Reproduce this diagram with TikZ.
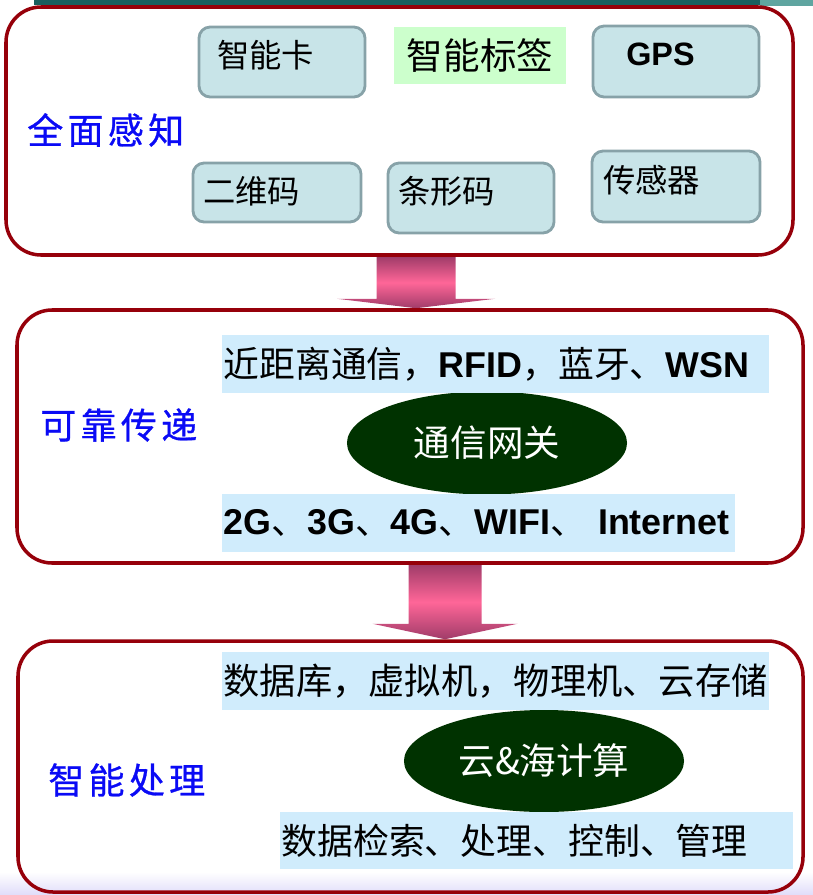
\documentclass[tikz,border=0pt]{standalone}
\usepackage{fontspec}
\usepackage{tikz}
\usetikzlibrary{fit,calc,backgrounds,shapes.geometric}
\setmainfont{Liberation Sans}
\newfontfamily\cjk{Noto Sans CJK SC}
\newfontfamily\cjkwide[LetterSpace=12,FakeBold=0.8]{Noto Sans CJK SC}
\definecolor{boxred}{RGB}{150,0,10}
\definecolor{itemfill}{RGB}{200,228,232}
\definecolor{itemline}{RGB}{135,162,168}
\definecolor{tagfill}{RGB}{204,255,204}
\definecolor{bandfill}{RGB}{208,236,252}
\definecolor{hubgreen}{RGB}{0,50,0}
\definecolor{labelblue}{RGB}{10,10,245}
\definecolor{arrowdark}{RGB}{160,60,105}
\definecolor{arrowpink}{RGB}{255,102,152}
\definecolor{topteal}{RGB}{25,95,95}
\definecolor{toplight}{RGB}{95,165,160}
\definecolor{lavender}{RGB}{224,220,250}

\begin{document}
\begin{tikzpicture}[x=0.025cm, y=-0.025cm,
		box_style/.style={draw=boxred, line width=2.5pt, rounded corners=0.875cm, inner sep=0pt},
		item_style/.style={draw=itemline, line width=2pt, fill=itemfill, rounded corners=0.28cm, inner sep=0pt, minimum width=4.15cm},
		item_text/.style={anchor=west, inner sep=0pt, font=\cjk\fontsize{23}{27}\selectfont},
		tag_style/.style={fill=tagfill, inner sep=0pt, minimum width=4.3cm, minimum height=1.425cm, font=\cjk\fontsize{26}{30}\selectfont},
		band_style/.style={fill=bandfill, anchor=north west, inner xsep=0.03cm, inner ysep=0pt, align=left, minimum height=1.44cm, font=\fontsize{25.5}{30}\selectfont},
		hub_style/.style={ellipse, fill=hubgreen, text=white, inner sep=0pt, minimum width=7cm, font=\cjk\fontsize{26}{30}\selectfont},
		label_style/.style={anchor=west, inner sep=0pt, text=labelblue, font=\cjkwide\fontsize{25.6}{30}\selectfont},
		arrow_style/.style={top color=arrowdark, bottom color=arrowdark, middle color=arrowpink}]

		\useasboundingbox (0,0) rectangle (813,895);
		\fill[topteal] (34,0) rectangle (760,5);
		\fill[toplight] (760,0) rectangle (813,6);

		% three stages
		\node[box_style, fit={(6,7) (793,255)}] (sense) {};
		\node[box_style, fit={(17,310) (803,563)}] (transmit) {};
		\node[box_style, fit={(18,641) (803,892)}] (process) {};

		\node[label_style] (sense_lbl) at (27,130) {全面感知};
		\node[label_style] (transmit_lbl) at (40,425) {可靠传递};
		\node[label_style] (process_lbl) at (48,780) {智能处理};

		% sensing devices
		\node[item_style, minimum height=1.75cm] (card) at (282,62) {};
		\node[tag_style] (tag) at (480,55.5) {智能标签};
		\node[item_style, minimum height=1.775cm] (gps) at (676,61.5) {};
		\node[item_style, minimum width=4.2cm, minimum height=1.475cm] (qr) at (277,192.5) {};
		\node[item_style, minimum height=1.75cm] (bar) at (471,198) {};
		\node[item_style, minimum width=4.2cm, minimum height=1.775cm] (sensor) at (676,186.5) {};

		\node[item_text] (card_txt) at (217,55) {智能卡};
		\node[item_text, font=\bfseries\fontsize{23}{27}\selectfont] (gps_txt) at (626,54) {GPS};
		\node[item_text] (qr_txt) at (203,191) {二维码};
		\node[item_text] (bar_txt) at (398,191) {条形码};
		\node[item_text] (sensor_txt) at (603,180) {传感器};

		% transmission
		\node[hub_style, minimum height=2.575cm] (gateway) at (487,443) {通信网关};
		\node[band_style, text width=13.615cm] (near) at (222,335) {{\cjk 近距离通信，}\textbf{RFID}{\cjk ，蓝牙、}\textbf{WSN}};
		\node[band_style, text width=12.765cm] (wide) at (222,494) {\textbf{2G}{\cjk 、}\textbf{3G}{\cjk 、}\textbf{4G}{\cjk 、}\textbf{WIFI}{\cjk 、} \textbf{Internet}};

		% processing
		\node[hub_style, minimum height=2.55cm] (cloud) at (544,761) {云\&海计算};
		\node[band_style, text width=13.615cm, font=\cjk\fontsize{25.8}{31}\selectfont] (store) at (222,652) {数据库，虚拟机，物理机、云存储};
		\node[band_style, text width=12.765cm, minimum height=1.425cm, font=\cjk\fontsize{25.5}{30}\selectfont] (manage) at (280,812) {数据检索、处理、控制、管理};

		\coordinate (a1top) at ($(sense.south)+(16.5,0)$);
		\coordinate (a1tip) at ($(transmit.north)+(6,0)$);
		\coordinate (a2top) at ($(transmit.south)+(35,0)$);
		\coordinate (a2tip) at ($(process.north)+(34.5,0)$);

		\begin{scope}[on background layer]
			\shade[top color=white, bottom color=lavender] (0,872) rectangle (813,895);
			\shade[arrow_style] ($(a1top)+(-39.5,0)$) -- ($(a1top)+(39.5,0)$) -- ($(a1top)+(39.5,42)$) -- ($(a1top)+(79,42)$)
				-- (a1tip) -- ($(a1top)+(-79,42)$) -- ($(a1top)+(-39.5,42)$) -- cycle;
			\shade[arrow_style] ($(a2top)+(-36.5,0)$) -- ($(a2top)+(36.5,0)$) -- ($(a2top)+(36.5,59)$) -- ($(a2top)+(72.5,59)$)
				-- (a2tip) -- ($(a2top)+(-72.5,59)$) -- ($(a2top)+(-36.5,59)$) -- cycle;
		\end{scope}

\end{tikzpicture}
\end{document}
